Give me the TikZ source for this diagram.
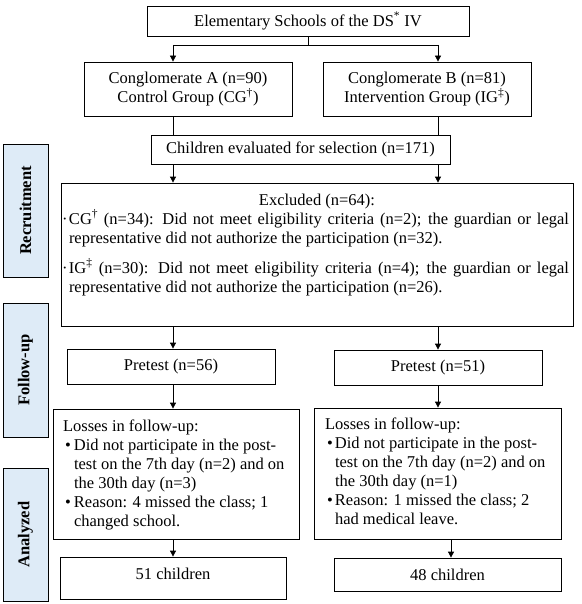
\documentclass[tikz,border=0pt]{standalone}
\usepackage{fontspec}
\setmainfont{Liberation Serif}
\usetikzlibrary{arrows.meta}
\definecolor{sidefill}{RGB}{222,235,247}
\newcommand\tline[1]{\mbox{#1}\par}
\begin{document}
\begin{tikzpicture}[x=1pt,y=-1pt,
  box/.style={draw, line width=0.8pt, inner sep=0pt, align=center, font=\fontsize{16.5}{19}\selectfont},
  side/.style={draw, line width=0.8pt, fill=sidefill, rotate=90, inner sep=0pt, minimum height=45pt, font=\fontsize{16.5}{19}\selectfont\bfseries},
  link/.style={line width=0.8pt},
  arr/.style={line width=0.8pt, -{Triangle[length=6pt,width=6pt]}}]
\useasboundingbox (0,0) rectangle (581,604);

% side labels
\node[side, minimum width=133pt] (rec) at (25.5,210.5) {Recruitment};
\node[side, minimum width=134pt] (fol) at (25.5,370) {Follow-up};
\node[side, minimum width=133pt] (ana) at (25.5,534.5) {Analyzed};

% boxes
\node[box, minimum width=322pt, minimum height=30pt] (top) at (308,21) {Elementary Schools of the DS\textsuperscript{*} IV};
\node[box, minimum width=208pt, minimum height=54pt] (ca) at (188,89) {Conglomerate A (n=90)\\Control Group (CG\textsuperscript{†})};
\node[box, minimum width=208pt, minimum height=54pt] (cb) at (427,89) {Conglomerate B (n=81)\\Intervention Group (IG\textsuperscript{‡})};
\node[box, minimum width=299pt, minimum height=29pt] (eval) at (300.5,149.5) {Children evaluated for selection (n=171)};

\node[box] (excl) at (317,254.5) {\begin{minipage}[c][143pt][t]{512pt}
{\centering\rule{0pt}{22pt}Excluded (n=64):\par}
\tline{\makebox[8pt][l]{\hspace{1pt}·}\makebox[500pt][s]{CG\textsuperscript{†} (n=34): Did not meet eligibility criteria (n=2); the guardian or legal}}
\tline{\hspace*{8pt}representative did not authorize the participation (n=32).}
\vspace{11pt}
\tline{\makebox[8pt][l]{\hspace{1pt}·}\makebox[500pt][s]{IG\textsuperscript{‡} (n=30): Did not meet eligibility criteria (n=4); the guardian or legal}}
\tline{\hspace*{8pt}representative did not authorize the participation (n=26).}
\end{minipage}};

\node[box, minimum width=208pt, minimum height=35pt] (preL) at (171,366.5) {Pretest (n=56)};
\node[box, minimum width=208pt, minimum height=35pt] (preR) at (438,367.5) {Pretest (n=51)};

\node[box] (lossL) at (176,474) {\begin{minipage}[c][130pt][t]{246pt}
\tline{\rule{0pt}{22pt}\hspace*{10pt}Losses in follow-up:}
\tline{\hspace*{12pt}\makebox[9pt][l]{•}Did not participate in the post-}
\tline{\hspace*{21pt}test on the 7th day (n=2) and on}
\tline{\hspace*{21pt}the 30th day (n=3)}
\tline{\hspace*{12pt}\makebox[9pt][l]{•}Reason: 4 missed the class; 1}
\tline{\hspace*{21pt}changed school.}
\end{minipage}};
\node[box] (lossR) at (437.5,473.5) {\begin{minipage}[c][131pt][t]{247pt}
\tline{\rule{0pt}{21pt}\hspace*{11pt}Losses in follow-up:}
\tline{\hspace*{13pt}\makebox[8pt][l]{•}Did not participate in the post-}
\tline{\hspace*{21pt}test on the 7th day (n=2) and on}
\tline{\hspace*{21pt}the 30th day (n=1)}
\tline{\hspace*{13pt}\makebox[8pt][l]{•}Reason: 1 missed the class; 2}
\tline{\hspace*{21pt}had medical leave.}
\end{minipage}};

\node[box, minimum width=226pt, minimum height=42pt] (resL) at (173,578) {\rule[-8pt]{0pt}{8pt}51 children};
\node[box, minimum width=227pt, minimum height=33pt] (resR) at (447.5,574.5) {48 children};

% connectors
\coordinate (cl) at (173,0);
\coordinate (cr) at (438,0);
\coordinate (cr2) at (451,0);
\coordinate (split) at (0,45);
\draw[link] (top.south) -- (top.south |- split);
\draw[link] (cl |- split) -- (cr |- split);
\draw[arr] (cl |- split) -- (cl |- ca.north);
\draw[arr] (cr |- split) -- (cr |- cb.north);
\draw[link] (cl |- ca.south) -- (cl |- eval.north);
\draw[link] (cr |- cb.south) -- (cr |- eval.north);
\draw[arr] (cl |- eval.south) -- (cl |- excl.north);
\draw[arr] (cr |- eval.south) -- (cr |- excl.north);
\draw[arr] (cl |- excl.south) -- (cl |- preL.north);
\draw[arr] (cr |- excl.south) -- (cr |- preR.north);
\draw[arr] (cl |- preL.south) -- (cl |- lossL.north);
\draw[arr] (cr |- preR.south) -- (cr |- lossR.north);
\draw[arr] (cl |- lossL.south) -- (cl |- resL.north);
\draw[arr] (cr2 |- lossR.south) -- (cr2 |- resR.north);
\end{tikzpicture}
\end{document}
